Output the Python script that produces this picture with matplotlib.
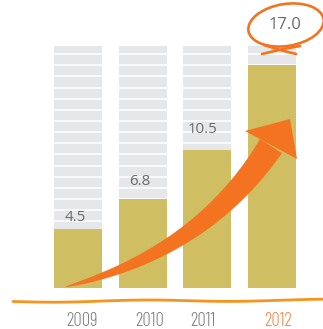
import numpy as np
import matplotlib
matplotlib.use("Agg")
import matplotlib.pyplot as plt
from matplotlib.patches import Polygon, Ellipse

# ---- data ----
years = ["2009", "2010", "2011", "2012"]
values = [4.5, 6.8, 10.5, 17.0]
value_labels = ["4.5", "6.8", "10.5", "17.0"]
background_max = 18.47

# ---- style / layout ----
W, H = 323, 329
px_per_x = 64.67
px_per_y = 13.1
x0_px = 78
base_px = 288
label_dx_px = [-2.5, -3, -4.5, 13]
label_dy = [0.61, 1.06, 1.33, 2.77]
label_sizes = [10.8, 10.8, 10.8, 12.0]
year_dx_px = [3.7, 7, -4, 6]
year_colors = ["#808080", "#808080", "#808080", "#f3874a"]
GOLD = "#cfbe62"
GRAY = "#e6e7e8"
ORANGE = "#f37321"
LINE_ORANGE = "#f7941d"
TEXT = "#6a6b6d"

fig = plt.figure(figsize=(W / 100, H / 100), dpi=100)
ax = fig.add_axes([0, 0, 1, 1])
ax.set_xlim(-x0_px / px_per_x, (W - x0_px) / px_per_x)
ax.set_ylim(-(H - base_px) / px_per_y, base_px / px_per_y)
ax.axis("off")

x = np.arange(len(values))
bw = 48 / px_per_x
ax.bar(x, [background_max] * len(x), width=bw, color=GRAY, zorder=1)
stripe = 0.85
for xi in x:
    for k in range(1, int(background_max / stripe) + 1):
        ax.hlines(k * stripe, xi - bw / 2, xi + bw / 2, color="white", lw=1.2, zorder=2)
ax.bar(x, values, width=bw, color=GOLD, zorder=3)

for i, (v, lab) in enumerate(zip(values, value_labels)):
    ax.text(x[i] + label_dx_px[i] / px_per_x, v + label_dy[i], lab,
            ha="center", va="baseline", fontsize=label_sizes[i],
            color=TEXT, family="Open Sans", zorder=5)

# ---- overlay in pixel coordinates for hand-drawn decorations ----
ov = fig.add_axes([0, 0, 1, 1])
ov.set_xlim(0, W)
ov.set_ylim(H, 0)
ov.axis("off")
ov.patch.set_alpha(0)

for i, yr in enumerate(years):
    xp = x0_px + x[i] * px_per_x + year_dx_px[i]
    ov.text(xp, 326, yr, ha="center", va="baseline", fontsize=13.5,
            family="Barlow Condensed", fontweight=300, color=year_colors[i])

# wavy baseline
xs = np.linspace(13, 323, 200)
ys = 301.5 + 0.9 * np.sin((xs - 13) / 28.0) - 0.0045 * (xs - 13)
ov.plot(xs, ys, color=LINE_ORANGE, lw=2.0, solid_capstyle="round")

# curved arrow
P0 = np.array([65.0, 287.0])
P1 = np.array([202.0, 253.0])
P2 = np.array([271.0, 146.0])
t = np.linspace(0, 1, 120)
B = ((1 - t) ** 2)[:, None] * P0 + (2 * t * (1 - t))[:, None] * P1 + (t ** 2)[:, None] * P2
dB = (2 * (1 - t))[:, None] * (P1 - P0) + (2 * t)[:, None] * (P2 - P1)
dB /= np.linalg.norm(dB, axis=1)[:, None]
nrm = np.stack([dB[:, 1], -dB[:, 0]], axis=1)
w = 26 * t ** 0.7
upper = B + nrm * (w / 2)[:, None]
lower = B - nrm * (w / 2)[:, None]
shaft = np.vstack([upper, lower[::-1]])
ov.add_patch(Polygon(shaft, closed=True, facecolor=ORANGE, edgecolor="none"))
ov.add_patch(Polygon([[245, 131], [290, 119], [297, 159]], closed=True,
                     facecolor=ORANGE, edgecolor="none"))

# hand-drawn ellipse around the last value
ov.add_patch(Ellipse((286, 25), 76, 42, angle=-9, fill=False, edgecolor=ORANGE, lw=1.9))
ov.plot([262, 283, 300], [54, 49, 46], color=ORANGE, lw=1.9, solid_capstyle="round")
ov.plot([264, 280, 296], [45, 50, 54], color=ORANGE, lw=1.9, solid_capstyle="round")

fig.savefig("out.png", dpi=100)
